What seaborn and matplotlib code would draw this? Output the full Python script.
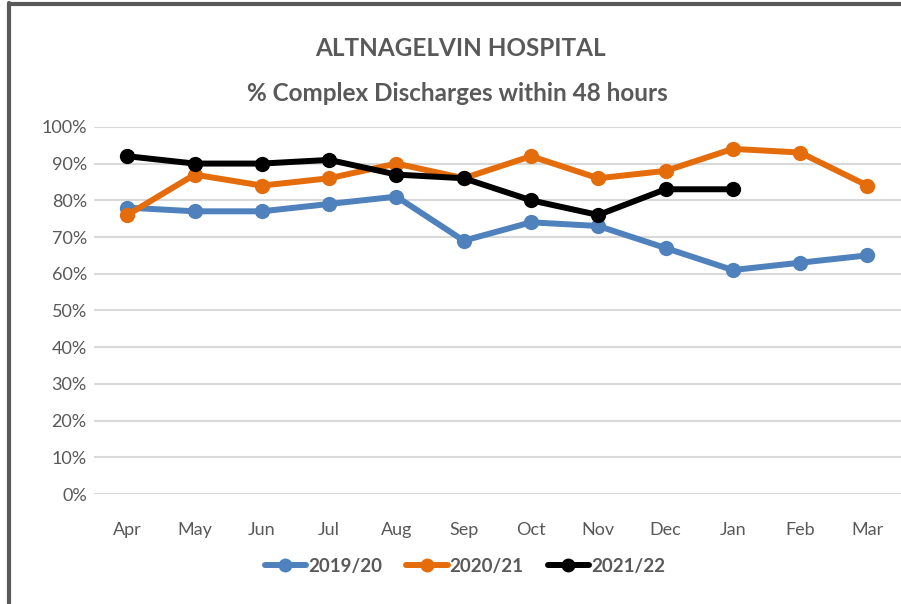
import numpy as np
import pandas as pd
import matplotlib.pyplot as plt
import seaborn as sns
from matplotlib.ticker import FuncFormatter

months = ['Apr', 'May', 'Jun', 'Jul', 'Aug', 'Sep', 'Oct', 'Nov', 'Dec', 'Jan', 'Feb', 'Mar']
y2019 = [78, 77, 77, 79, 81, 69, 74, 73, 67, 61, 63, 65]
y2020 = [76, 87, 84, 86, 90, 86, 92, 86, 88, 94, 93, 84]
y2021 = [92, 90, 90, 91, 87, 86, 80, 76, 83, 83]
series = ['2019/20', '2020/21', '2021/22']
colors = ['#4F81BD', '#E46C0A', '#000000']

rows = []
for name, vals in zip(series, [y2019, y2020, y2021]):
    for m, v in zip(months, vals):
        rows.append({'month': m, 'pct': v, 'year': name})
df = pd.DataFrame(rows)
df['x'] = df['month'].map({m: i for i, m in enumerate(months)})

sns.set_style('white')
plt.rcParams['font.family'] = ['Lato', 'DejaVu Sans']

fig = plt.figure(figsize=(9.01, 6.04), dpi=100)
ax = fig.add_axes([0.104, 0.182, 0.896, 0.608])

sns.lineplot(data=df, x='x', y='pct', hue='year', palette=colors, marker='o',
             markersize=11, markeredgewidth=0, linewidth=4.3, ax=ax, legend=False)

ax.set_xlim(-0.5, 11.5)
ax.set_ylim(0, 100)
ax.set_yticks(range(0, 101, 10))
ax.yaxis.set_major_formatter(FuncFormatter(lambda v, p: f'{int(v)}%'))
ax.set_xticks(range(12))
ax.set_xticklabels(months)
ax.tick_params(axis='both', labelsize=13, colors='#595959', length=0)
ax.tick_params(axis='x', pad=20)
ax.tick_params(axis='y', pad=5)
ax.grid(axis='y', color='#D9D9D9', linewidth=1.5)
ax.set_axisbelow(True)
for s in ax.spines.values():
    s.set_visible(False)
ax.set_xlabel('')
ax.set_ylabel('')

fig.text(0.511, 0.92, 'ALTNAGELVIN HOSPITAL', ha='center', va='center',
         fontsize=17.5, fontweight='bold', color='#595959')
fig.text(0.508, 0.846, '% Complex Discharges within 48 hours', ha='center', va='center',
         fontsize=17.5, fontweight='bold', color='#595959')

handles = [plt.Line2D([], [], color=c, marker='o', markersize=10, markeredgewidth=0, linewidth=4.3)
           for c in colors]
leg = fig.legend(handles, series, loc='center', bbox_to_anchor=(0.516, 0.062), ncol=3,
                 frameon=False, handlelength=2.2, handletextpad=0.1, columnspacing=1.3,
                 prop={'size': 13.5, 'weight': 'bold'})
for t in leg.get_texts():
    t.set_color('#595959')

# outer frame (left and top only visible in reference)
fig.add_artist(plt.Line2D([0.0105, 0.0105], [0, 0.995], transform=fig.transFigure, color='#595959', linewidth=3))
fig.add_artist(plt.Line2D([0.0105, 1.0], [0.994, 0.994], transform=fig.transFigure, color='#595959', linewidth=3))

fig.savefig('out.png', dpi=100)
